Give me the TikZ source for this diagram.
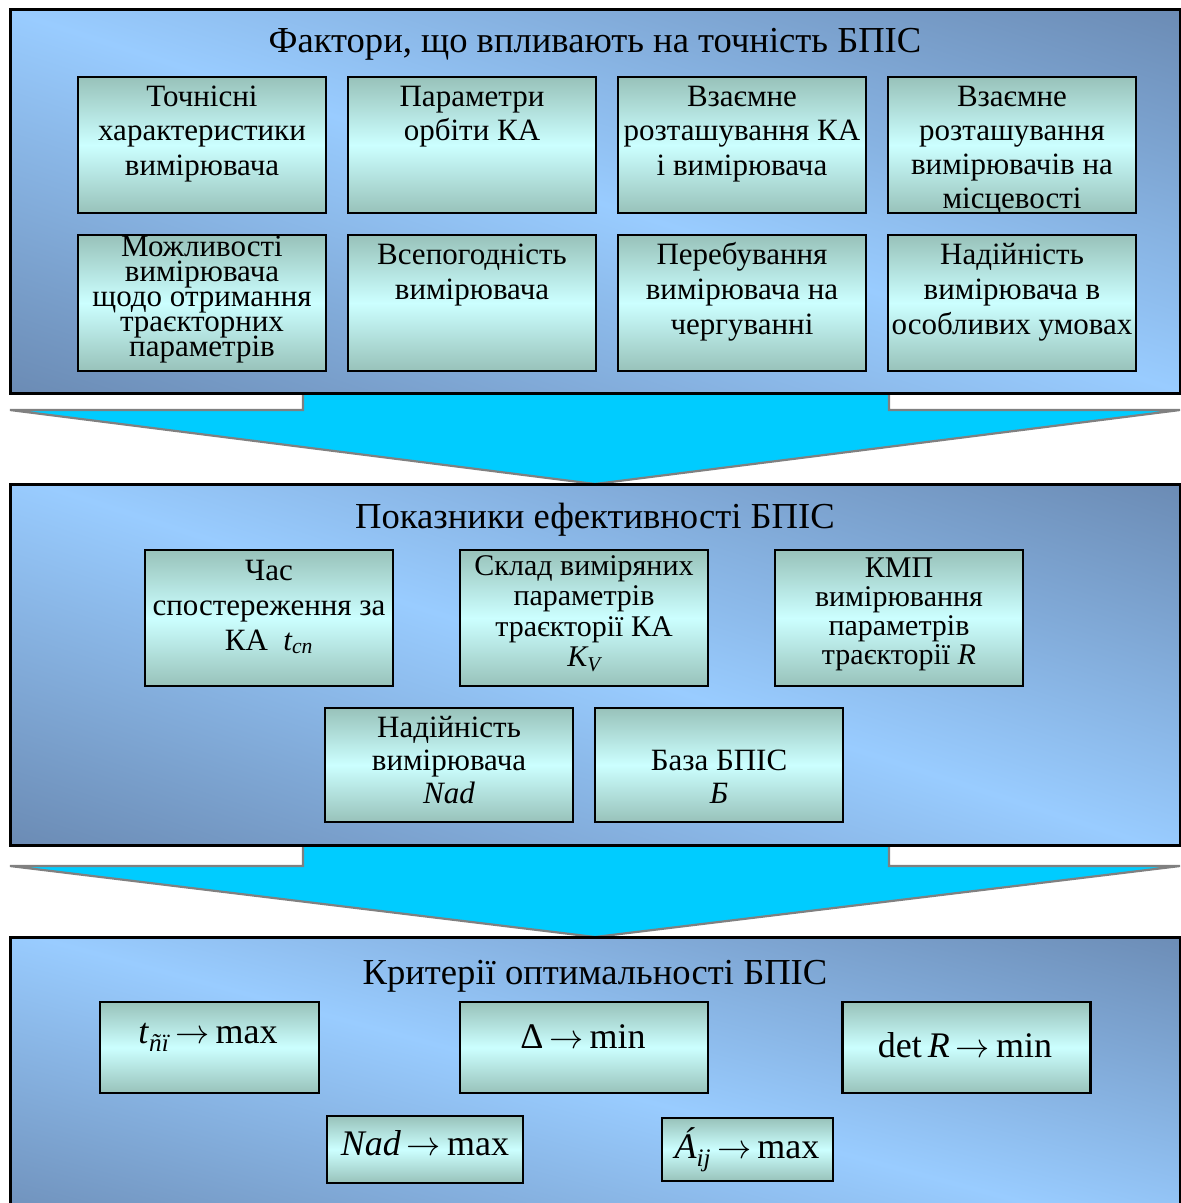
\documentclass[tikz,border=0pt]{standalone}
\usepackage{amsmath}
\usepackage{graphicx}
\usepackage{fontspec}
\setmainfont{Liberation Serif}

\definecolor{pdark}{HTML}{6684AC}
\definecolor{plight}{HTML}{99CCFF}
\definecolor{cedge}{HTML}{98C2BA}
\definecolor{cmid}{HTML}{CCFFFF}
\definecolor{arrowfill}{HTML}{00CCFF}
\definecolor{arrowline}{HTML}{808080}

% diagonal light band across each panel
\pgfdeclarehorizontalshading{panelshade}{100bp}{color(0bp)=(pdark); color(15bp)=(pdark); color(50bp)=(plight); color(85bp)=(pdark); color(100bp)=(pdark)}

% font size with a fixed line distance
\newcommand\fsz[2]{\fontsize{#1}{#2}\selectfont\lineskiplimit=-100pt\relax}
\newcommand\tstrut{\rule{0pt}{1em}}
% arrow scaled to the current text size
\newcommand\goesto{\resizebox{0.95em}{!}{$\rightarrow$}}

\tikzset{
  panelbox/.style={rectangle, inner sep=0pt, outer sep=0pt, shading=panelshade, shading angle=72},
  panelline/.style={line width=3pt, draw=black},
  cell/.style={rectangle, inner sep=0pt, outer sep=0pt, draw=black, line width=2.4pt,
    top color=cedge, bottom color=cedge, middle color=cmid},
  celltext/.style={anchor=north, align=center, inner sep=0pt, outer sep=0pt},
  title/.style={anchor=base, inner sep=0pt, font=\fsz{36.6}{40}},
  formula/.style={anchor=base, inner sep=0pt, font=\fsz{36}{40}},
  bigarrow/.style={fill=arrowfill, draw=arrowline, line width=2.2pt, line join=miter},
}

\begin{document}
\begin{tikzpicture}[x=1pt, y=-1pt]
\useasboundingbox (0,0) rectangle (1181,1203);
\fill[white] (0,0) rectangle (1181,1203);

% ---- block arrows between the panels ----
\coordinate (a1l) at (303,385);
\coordinate (a1r) at (889,385);
\coordinate (a1tip) at (595,484);
\filldraw[bigarrow] (a1l) -- (303,410) -- (10,410) -- (a1tip) -- (1180,410) -- (889,410) -- (a1r) -- cycle;

\coordinate (a2l) at (303,838);
\coordinate (a2r) at (889,838);
\coordinate (a2tip) at (595,937);
\filldraw[bigarrow] (a2l) -- (303,866) -- (10,866) -- (a2tip) -- (1180,866) -- (889,866) -- (a2r) -- cycle;

% ---- panels ----
\node[panelbox, panelline, minimum width=1170pt, minimum height=384pt] (p1) at (595,201) {};
\node[panelbox, panelline, minimum width=1170pt, minimum height=361pt] (p2) at (595,664.5) {};
\node[panelbox, shading angle=75, minimum width=1170pt, minimum height=300pt] (p3) at (595,1087) {};
\draw[panelline] (p3.south west) -- (p3.north west) -- (p3.north east) -- (p3.south east);

% ---- panel 1: factors ----
\node[title] (t1) at (595,52) {Фактори, що впливають на точність БПІС};

\node[cell, minimum width=248pt, minimum height=136pt] (f1) at (202,145) {};
\node[cell, minimum width=248pt, minimum height=136pt] (f2) at (472,145) {};
\node[cell, minimum width=248pt, minimum height=136pt] (f3) at (742,145) {};
\node[cell, minimum width=248pt, minimum height=136pt] (f4) at (1012,145) {};
\node[cell, minimum width=248pt, minimum height=136pt] (f5) at (202,303) {};
\node[cell, minimum width=248pt, minimum height=136pt] (f6) at (472,303) {};
\node[cell, minimum width=248pt, minimum height=136pt] (f7) at (742,303) {};
\node[cell, minimum width=248pt, minimum height=136pt] (f8) at (1012,303) {};

\node[celltext, font=\fsz{31}{34.5}] (f1t) at (202,75) {\tstrut Точнісні\\характеристики\\вимірювача};
\node[celltext, font=\fsz{31}{34.5}] (f2t) at (472,75) {\tstrut Параметри\\орбіти КА};
\node[celltext, font=\fsz{31}{34.5}] (f3t) at (742,75) {\tstrut Взаємне\\розташування КА\\і вимірювача};
\node[celltext, font=\fsz{31}{34}] (f4t) at (1012,75) {\tstrut Взаємне\\розташування\\вимірювачів на\\місцевості};
\node[celltext, font=\fsz{31}{25}] (f5t) at (202,225) {\tstrut Можливості\\вимірювача\\щодо отримання\\траєкторних\\параметрів};
\node[celltext, font=\fsz{31}{35}] (f6t) at (472,233) {\tstrut Всепогодність\\вимірювача};
\node[celltext, font=\fsz{31}{35}] (f7t) at (742,233) {\tstrut Перебування\\вимірювача на\\чергуванні};
\node[celltext, font=\fsz{31}{35}] (f8t) at (1012,233) {\tstrut Надійність\\вимірювача в\\особливих умовах};

% ---- panel 2: efficiency indicators ----
\node[title] (t2) at (595,528) {Показники ефективності БПІС};

\node[cell, minimum width=248pt, minimum height=136pt] (e1) at (269,618) {};
\node[cell, minimum width=248pt, minimum height=136pt] (e2) at (584,618) {};
\node[cell, minimum width=248pt, minimum height=136pt] (e3) at (899,618) {};
\node[cell, minimum width=248pt, minimum height=114pt] (e4) at (449,765) {};
\node[cell, minimum width=248pt, minimum height=114pt] (e5) at (719,765) {};

\node[celltext, font=\fsz{31}{35}] (e1t) at (269,549) {\tstrut Час\\спостереження за\\КА~~$\textit{t}_{\textit{cn}}$};
\node[celltext, font=\fsz{30}{30.5}] (e2t) at (584,545) {\tstrut Склад виміряних\\параметрів\\траєкторії КА\\$\textit{K}_{\textit{V}}$};
\node[celltext, font=\fsz{30}{29}] (e3t) at (899,547) {\tstrut КМП\\вимірювання\\параметрів\\траєкторії \textit{R}};
\node[celltext, font=\fsz{31}{33}] (e4t) at (449,706) {\tstrut Надійність\\вимірювача\\\textit{Nad}};
\node[celltext, font=\fsz{31}{33}] (e5t) at (719,739) {\tstrut База БПІС\\\textit{Б}};

% ---- panel 3: optimality criteria ----
\node[title] (t3) at (595,984) {Критерії оптимальності БПІС};

\node[cell, minimum width=219pt, minimum height=91pt] (k1) at (209.5,1047.5) {};
\node[cell, minimum width=248pt, minimum height=91pt] (k2) at (584,1047.5) {};
\node[cell, minimum width=248pt, minimum height=91pt] (k3) at (966.5,1047.5) {};
\node[cell, minimum width=196pt, minimum height=67pt] (k4) at (425,1149.5) {};
\node[cell, minimum width=171pt, minimum height=63pt] (k5) at (747.5,1149.5) {};

\node[formula] (k1t) at (208,1043) {\textit{t}$_{\textit{ñï}}$\,\goesto\,max};
\node[formula] (k2t) at (583,1048) {Δ\,\goesto\,min};
\node[formula] (k3t) at (965,1057) {det\,\textit{R}\,\goesto\,min};
\node[formula] (k4t) at (425,1155) {\textit{Nad}\,\goesto\,max};
\node[formula] (k5t) at (747,1158) {\textit{Á}$_{\textit{ij}}$\,\goesto\,max};
\end{tikzpicture}
\end{document}
